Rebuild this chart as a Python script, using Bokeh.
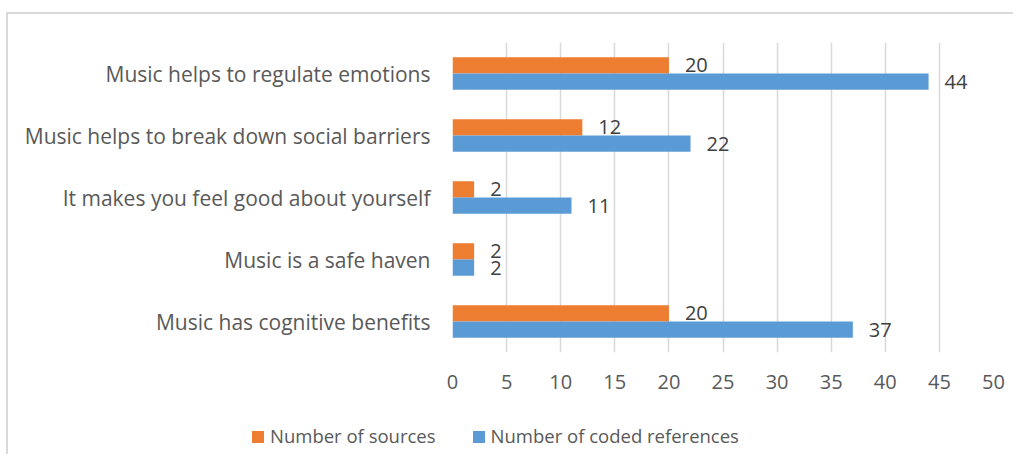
from bokeh.plotting import figure
from bokeh.layouts import column
from bokeh.models import ColumnDataSource, FactorRange, FixedTicker, Div
from bokeh.transform import dodge
from bokeh.core.properties import value
from bokeh.embed import file_html
from bokeh.resources import INLINE

categories = [
    "Music helps to regulate emotions",
    "Music helps to break down social barriers",
    "It makes you feel good about yourself",
    "Music is a safe haven",
    "Music has cognitive benefits",
]
sources = [20, 12, 2, 2, 20]
coded_refs = [44, 22, 11, 2, 37]
x_ticks = [0, 5, 10, 15, 20, 25, 30, 35, 40, 45, 50]
series_names = ["Number of sources", "Number of coded references"]

FONT = "Open Sans"
TXT = "#595959"
ORANGE = "#ED7D31"
BLUE = "#5B9BD5"

src = ColumnDataSource(dict(
    cat=categories,
    sources=sources,
    refs=coded_refs,
    s_lbl=[str(v) for v in sources],
    r_lbl=[str(v) for v in coded_refs],
))

p = figure(
    width=1005, height=400,
    y_range=FactorRange(factors=list(reversed(categories)), range_padding=0),
    x_range=(0, 50),
    output_backend="svg", toolbar_location=None,
    min_border_left=444, min_border_right=20, min_border_top=28, min_border_bottom=62,
)
p.outline_line_color = None

bh = 0.263
p.hbar(y=dodge("cat", bh / 2, range=p.y_range), right="sources", left=0, height=bh,
       source=src, color=ORANGE, line_color=None, legend_label=series_names[0])
p.hbar(y=dodge("cat", -bh / 2, range=p.y_range), right="refs", left=0, height=bh,
       source=src, color=BLUE, line_color=None, legend_label=series_names[1])
p.legend.visible = False  # legend drawn in the strip below

p.text(x="sources", y=dodge("cat", bh / 2, range=p.y_range), text="s_lbl", source=src,
       x_offset=16, text_baseline="middle", text_align="left",
       text_font=value(FONT), text_font_size="20px", text_color="#404040")
p.text(x="refs", y=dodge("cat", -bh / 2, range=p.y_range), text="r_lbl", source=src,
       x_offset=16, text_baseline="middle", text_align="left",
       text_font=value(FONT), text_font_size="20px", text_color="#404040")

p.xaxis.ticker = FixedTicker(ticks=x_ticks)
p.xgrid.ticker = FixedTicker(ticks=x_ticks)
p.xgrid.grid_line_color = "#d9d9d9"
p.xgrid.grid_line_width = 1.5
p.ygrid.grid_line_color = None

for ax in (p.xaxis, p.yaxis):
    ax.axis_line_color = None
    ax.major_tick_line_color = None
    ax.minor_tick_line_color = None
    ax.major_tick_out = 0
    ax.major_tick_in = 0
    ax.major_label_text_font = FONT
    ax.major_label_text_color = TXT
p.xaxis.major_label_text_font_size = "20px"
p.yaxis.major_label_text_font_size = "21px"
p.xaxis.major_label_standoff = 22
p.yaxis.major_label_standoff = 22

sq = "display:inline-block;width:12px;height:12px;"
legend_html = (
    f'<div style="display:flex;align-items:center;height:40px;padding-top:5px;box-sizing:border-box;'
    f'padding-left:244px;font-family:\'{FONT}\';font-size:18.5px;color:{TXT};white-space:nowrap;">'
    f'<span style="{sq}background:{ORANGE};margin-right:6px;"></span>'
    f'<span>{series_names[0]}</span>'
    f'<span style="{sq}background:{BLUE};margin-left:37px;margin-right:6px;"></span>'
    f'<span>{series_names[1]}</span></div>'
)
legend_div = Div(text=legend_html, width=1005, height=40, margin=0)

layout = column(p, legend_div, spacing=0)
layout.styles = {
    "margin-left": "6px", "margin-top": "12px",
    "border-left": "2px solid #d9d9d9", "border-top": "2px solid #d9d9d9",
}

open("out.html", "w").write(file_html(layout, INLINE))
